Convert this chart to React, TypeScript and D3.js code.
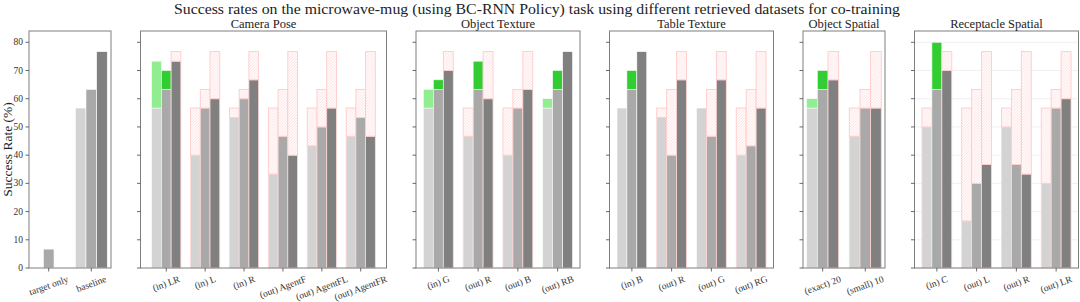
import React, { useEffect, useRef } from "react";
import * as d3 from "d3";

// baseline success rates for the three seeds / bar shades
const baseline = [56.7, 63.3, 76.7];

const firstCats = ["target only", "baseline"];
const firstLight = [0, 56.7];
const firstMid = [6.7, 63.3];
const firstDark = [0, 76.7];

const cameraCats = ["(in) LR", "(in) L", "(in) R", "(out) AgentF", "(out) AgentFL", "(out) AgentFR"];
const cameraLight = [73.3, 40, 53.3, 33.3, 43.3, 46.7];
const cameraMid = [70, 56.7, 60, 46.7, 50, 53.3];
const cameraDark = [73.3, 60, 66.7, 40, 56.7, 46.7];

const objTexCats = ["(in) G", "(out) R", "(out) B", "(out) RB"];
const objTexLight = [63.3, 46.7, 40, 60];
const objTexMid = [66.7, 73.3, 56.7, 70];
const objTexDark = [70, 60, 63.3, 76.7];

const tableCats = ["(in) B", "(out) R", "(out) G", "(out) RG"];
const tableLight = [56.7, 53.3, 56.7, 40];
const tableMid = [70, 40, 46.7, 43.3];
const tableDark = [76.7, 66.7, 66.7, 56.7];

const objSpCats = ["(exact) 20", "(small) 10"];
const objSpLight = [60, 46.7];
const objSpMid = [70, 56.7];
const objSpDark = [66.7, 56.7];

const recCats = ["(in) C", "(out) L", "(out) R", "(out) LR"];
const recLight = [50, 16.7, 50, 30];
const recMid = [80, 30, 36.7, 56.7];
const recDark = [70, 36.7, 33.3, 60];

const yTicks = [0, 10, 20, 30, 40, 50, 60, 70, 80];

const panels = [
  { title: "", cats: firstCats, series: [firstLight, firstMid, firstDark], ratio: 2, compare: false, grid: false },
  { title: "Camera Pose", cats: cameraCats, series: [cameraLight, cameraMid, cameraDark], ratio: 6, compare: true, grid: false },
  { title: "Object Texture", cats: objTexCats, series: [objTexLight, objTexMid, objTexDark], ratio: 4, compare: true, grid: false },
  { title: "Table Texture", cats: tableCats, series: [tableLight, tableMid, tableDark], ratio: 4, compare: true, grid: false },
  { title: "Object Spatial", cats: objSpCats, series: [objSpLight, objSpMid, objSpDark], ratio: 2, compare: true, grid: false },
  { title: "Receptacle Spatial", cats: recCats, series: [recLight, recMid, recDark], ratio: 4, compare: true, grid: true },
];

const grays = ["#d3d3d3", "#a9a9a9", "#808080"];
const greens = ["#90ee90", "#32cd32", "#228b22"];
const FONT = "'Liberation Serif', 'DejaVu Serif', serif";

export default function App() {
  const ref = useRef<SVGSVGElement>(null);

  useEffect(() => {
    const svg = d3.select(ref.current);
    svg.selectAll("*").remove();

    const W = 1080, H = 302;
    const left = 29, unit = 41, gap = 29.5;
    const top = 31, bottom = 268;

    const y = d3.scaleLinear().domain([0, 84]).range([bottom, top]);

    // hatch pattern for the shortfall below baseline
    const defs = svg.append("defs");
    const pat = defs.append("pattern")
      .attr("id", "hatch")
      .attr("patternUnits", "userSpaceOnUse")
      .attr("width", 2.8).attr("height", 2.8);
    pat.append("rect").attr("width", 2.8).attr("height", 2.8).attr("fill", "#fff");
    pat.append("path")
      .attr("d", "M-1,1 l2,-2 M0,2.8 l2.8,-2.8 M1.8,3.8 l2,-2")
      .attr("stroke", "#ffd2d2").attr("stroke-width", 0.8);

    // title
    svg.append("text")
      .attr("x", 537).attr("y", 14)
      .attr("text-anchor", "middle")
      .attr("font-family", FONT).attr("font-size", 14.5)
      .attr("textLength", 726).attr("lengthAdjust", "spacingAndGlyphs")
      .attr("fill", "#222")
      .text("Success rates on the microwave-mug (using BC-RNN Policy) task using different retrieved datasets for co-training");

    // y label
    svg.append("text")
      .attr("transform", `translate(12,${(top + bottom) / 2}) rotate(-90)`)
      .attr("text-anchor", "middle")
      .attr("font-family", FONT).attr("font-size", 13.5)
      .attr("fill", "#222")
      .text("Success Rate (%)");

    let x0 = left;
    panels.forEach((p, pi) => {
      const w = p.ratio * unit;
      const n = p.cats.length;
      const span = n - 1 + 0.75;
      const x = d3.scaleLinear()
        .domain([-0.375 - 0.05 * span, n - 1 + 0.375 + 0.05 * span])
        .range([x0, x0 + w]);
      const bw = x(0.25) - x(0);
      const g = svg.append("g");

      if (p.grid) {
        g.selectAll("line.grid").data(yTicks).enter().append("line")
          .attr("x1", x0).attr("x2", x0 + w)
          .attr("y1", (d) => y(d)).attr("y2", (d) => y(d))
          .attr("stroke", "#ececec").attr("stroke-width", 0.8);
      }

      p.series.forEach((vals, si) => {
        const off = (si - 1) * 0.25;
        vals.forEach((v, ci) => {
          const bx = x(ci + off - 0.125);
          const base = baseline[si];
          if (!p.compare) {
            g.append("rect")
              .attr("x", bx).attr("width", bw)
              .attr("y", y(v)).attr("height", y(0) - y(v))
              .attr("fill", grays[si]).attr("stroke", "#fff").attr("stroke-width", 0.6);
            return;
          }
          if (v > base) {
            g.append("rect")
              .attr("x", bx).attr("width", bw)
              .attr("y", y(base)).attr("height", y(0) - y(base))
              .attr("fill", grays[si]).attr("stroke", "#f2fbf2").attr("stroke-width", 0.6);
            g.append("rect")
              .attr("x", bx).attr("width", bw)
              .attr("y", y(v)).attr("height", y(base) - y(v))
              .attr("fill", greens[si]).attr("stroke", "#f2fbf2").attr("stroke-width", 0.6);
          } else if (v < base) {
            g.append("rect")
              .attr("x", bx).attr("width", bw)
              .attr("y", y(v)).attr("height", y(0) - y(v))
              .attr("fill", grays[si]).attr("stroke", "#ffd6d6").attr("stroke-width", 0.8);
            g.append("rect")
              .attr("x", bx).attr("width", bw)
              .attr("y", y(base)).attr("height", y(v) - y(base))
              .attr("fill", "url(#hatch)").attr("stroke", "#ffcaca").attr("stroke-width", 0.9);
          } else {
            g.append("rect")
              .attr("x", bx).attr("width", bw)
              .attr("y", y(v)).attr("height", y(0) - y(v))
              .attr("fill", grays[si]).attr("stroke", "#fff").attr("stroke-width", 0.6);
          }
        });
      });

      // frame
      g.append("rect")
        .attr("x", x0).attr("y", top).attr("width", w).attr("height", bottom - top)
        .attr("fill", "none").attr("stroke", "#7f7f7f").attr("stroke-width", 1);

      // y ticks
      g.selectAll("line.yt").data(yTicks).enter().append("line")
        .attr("x1", x0 - 3.5).attr("x2", x0)
        .attr("y1", (d) => y(d)).attr("y2", (d) => y(d))
        .attr("stroke", "#444").attr("stroke-width", 0.8);
      if (pi === 0) {
        g.selectAll("text.yl").data(yTicks).enter().append("text")
          .attr("x", x0 - 6).attr("y", (d) => y(d))
          .attr("dy", "0.33em")
          .attr("text-anchor", "end")
          .attr("font-family", FONT).attr("font-size", 9.5)
          .attr("fill", "#333")
          .text((d) => String(d));
      }

      // x ticks + rotated labels
      p.cats.forEach((c, ci) => {
        const tx = x(ci);
        g.append("line")
          .attr("x1", tx).attr("x2", tx).attr("y1", bottom).attr("y2", bottom + 3.5)
          .attr("stroke", "#444").attr("stroke-width", 0.8);
        const t = g.append("text")
          .attr("text-anchor", "middle")
          .attr("dominant-baseline", "central")
          .attr("font-family", FONT).attr("font-size", 9.5)
          .attr("fill", "#333")
          .text(c);
        const tl = (t.node() as SVGTextElement).getComputedTextLength();
        const a = (20 * Math.PI) / 180;
        const cy = 274 + (tl * Math.sin(a) + 10 * Math.cos(a)) / 2;
        t.attr("transform", `translate(${tx},${cy}) rotate(-20)`);
      });

      if (p.title) {
        g.append("text")
          .attr("x", x0 + w / 2).attr("y", 28)
          .attr("text-anchor", "middle")
          .attr("font-family", FONT).attr("font-size", 12.5)
          .attr("fill", "#222")
          .text(p.title);
      }

      x0 += w + gap;
    });

    svg.attr("width", W).attr("height", H);
  }, []);

  return (
    <div style={{ position: "fixed", left: 0, top: 0, background: "#fff" }}>
      <svg ref={ref} width={1080} height={302} />
    </div>
  );
}
